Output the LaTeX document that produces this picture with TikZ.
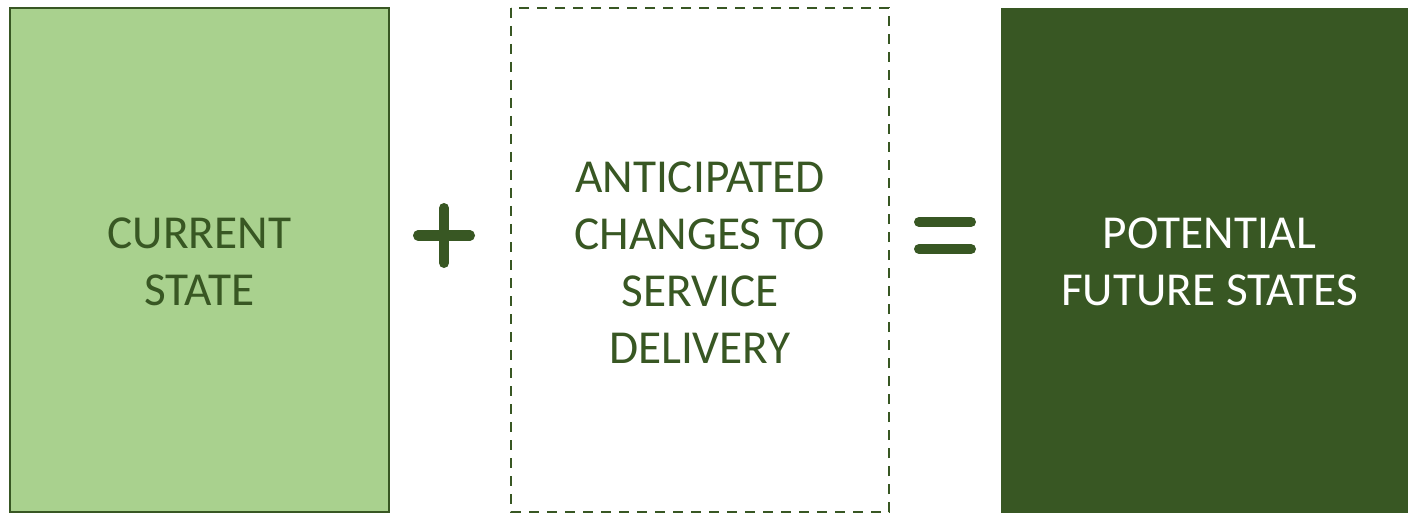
\documentclass[tikz,border=0pt]{standalone}
\usepackage{fontspec}
\setmainfont{Carlito}
\usetikzlibrary{calc}
\definecolor{lightgr}{HTML}{A9D18E}
\definecolor{darkgr}{HTML}{385723}
\begin{document}
\begin{tikzpicture}[x=1pt,y=-1pt,
  boxtext/.style={align=center,font=\fontsize{47.3}{57}\selectfont,inner sep=0pt},
  opbar/.style={draw=darkgr,line width=10pt,line cap=round}]
\useasboundingbox (0,0) rectangle (1408,513);
\fill[white] (0,0) rectangle (1408,513);
% left box
\draw[fill=lightgr,draw=darkgr,line width=2pt] (10,8) rectangle (389,512);
\node[boxtext,text=darkgr] (cur) at (199.5,262) {CURRENT\\STATE};
% middle dashed box
\draw[draw=darkgr,line width=2pt,dash pattern=on 10pt off 8pt] (511,8) rectangle (889,512);
\node[boxtext,text=darkgr] (ant) at (700,263) {ANTICIPATED\\CHANGES TO\\SERVICE\\DELIVERY};
% right box
\fill[darkgr] (1001,8) rectangle (1420,520);
\node[boxtext,text=white] (pot) at (1209.5,262) {POTENTIAL\\FUTURE STATES};
% plus
\coordinate (pl) at (444,235.5);
\draw[opbar] ($(pl)+(-26,0)$) -- ($(pl)+(26,0)$);
\draw[opbar] ($(pl)+(0,-27.5)$) -- ($(pl)+(0,27.5)$);
% equals
\draw[opbar] (919,222) -- (971,222);
\draw[opbar] (919,249) -- (971,249);
\end{tikzpicture}
\end{document}
